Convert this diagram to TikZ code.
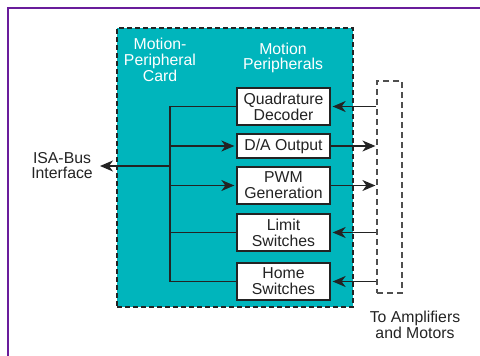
\documentclass[tikz,border=0pt]{standalone}
\usepackage{fontspec}
\setmainfont{Liberation Sans}
\usetikzlibrary{arrows.meta}
\definecolor{cardteal}{RGB}{0,181,188}
\definecolor{framepurple}{RGB}{105,28,155}
\definecolor{ink}{RGB}{35,35,35}
\tikzset{
  txt/.style={font=\fontsize{15.8}{15.8}\selectfont, align=center, inner sep=0pt, text=ink},
  wtxt/.style={txt, text=white},
  unit/.style={draw=ink, line width=1.3pt, fill=white, minimum width=93pt, inner sep=0pt, txt},
  wire/.style={draw=ink, line width=1.3pt},
  arr/.style={wire, -{Stealth[length=13pt,width=11pt,inset=4pt]}},
}
\begin{document}
\begin{tikzpicture}[x=1pt, y=-1pt]
\useasboundingbox (0,0) rectangle (480,356);
% outer frame
\draw[framepurple, line width=2pt] (480,8) -- (8,8) -- (8,356);
% the card
\node[draw=ink, fill=cardteal, line width=1.2pt, dash pattern=on 5pt off 3pt,
      minimum width=236pt, minimum height=279pt, inner sep=0pt] (card) at (235,167.5) {};
\node[wtxt] (cardlbl) at (160,60) {Motion-\\Peripheral\\Card};
\node[wtxt] (perlbl) at (283,58) {Motion\\Peripherals};
% peripheral units
\node[unit, minimum height=37pt] (qd) at (283.5,106.5) {Quadrature\\Decoder};
\node[unit, minimum height=24pt] (da) at (283.5,146) {D/A Output};
\node[unit, minimum height=37pt] (pwm) at (283.5,185.5) {PWM\\Generation};
\node[unit, minimum height=37pt] (lim) at (283.5,232.5) {Limit\\Switches};
\node[unit, minimum height=37pt] (home) at (283.5,281.5) {Home\\Switches};
% external connector block
\node[draw=ink!80, line width=1.2pt, dash pattern=on 6pt off 4pt,
      minimum width=25pt, minimum height=212pt, inner sep=0pt] (ext) at (389.5,187) {};
\node[txt] (extlbl) at (415,325) {To Amplifiers\\and Motors};
% bus interface
\node[txt] (isa) at (62,165.5) {ISA-Bus\\Interface};
\coordinate (bustop) at (170,106.5);
\coordinate (busbot) at (170,281.5);
\coordinate (isatip) at (100,166);
% internal bus
\draw[wire] (qd.west) -- (bustop) -- (busbot) -- (home.west);
\draw[arr] (bustop |- isatip) -- (isatip);
\draw[arr] (bustop |- da.west) -- ([xshift=-2pt]da.west);
\draw[arr] (bustop |- pwm.west) -- ([xshift=-2pt]pwm.west);
\draw[wire] (bustop |- lim.west) -- (lim.west);
% external signals
\draw[arr] (ext.west |- qd.east) -- ([xshift=2pt]qd.east);
\draw[arr] (da.east) -- ([xshift=-1pt]ext.west |- da.east);
\draw[arr] (pwm.east) -- ([xshift=-1pt]ext.west |- pwm.east);
\draw[arr] (ext.west |- lim.east) -- ([xshift=2pt]lim.east);
\draw[arr] (ext.west |- home.east) -- ([xshift=2pt]home.east);
\end{tikzpicture}
\end{document}
